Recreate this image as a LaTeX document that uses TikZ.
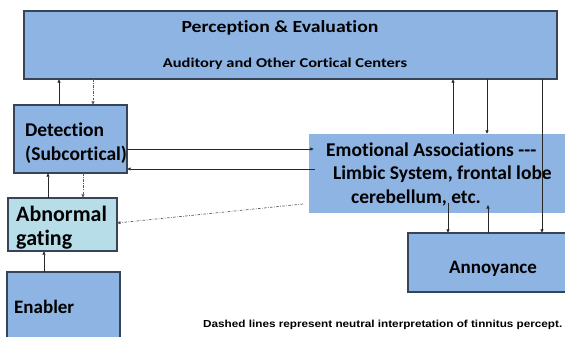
\documentclass[tikz,border=0pt]{standalone}
\usepackage{fontspec}
\setmainfont{Carlito}[Ligatures={TeX,NoCommon}]
\newfontfamily\footfont{Liberation Sans}
\usetikzlibrary{arrows.meta}
\definecolor{boxblue}{RGB}{142,180,227}
\definecolor{boxaqua}{RGB}{183,222,232}
\definecolor{boxedge}{RGB}{55,68,88}
\definecolor{linegray}{RGB}{40,40,40}
\definecolor{dashgray}{RGB}{90,90,90}
\tikzset{
  x=1pt, y=-1pt,
  bluebox/.style={draw=boxedge, line width=1.1pt, fill=boxblue},
  aquabox/.style={draw=boxedge, line width=1.1pt, fill=boxaqua},
  plainbox/.style={fill=boxblue},
  lbl/.style={inner sep=0pt, font=\bfseries, text=black},
  arr/.style={draw=linegray, line width=0.8pt, -{Triangle[length=3.5pt,width=3pt]}},
  darr/.style={draw=dashgray, line width=0.7pt, dash pattern=on 2.5pt off 1.5pt on 0.6pt off 1.5pt, -{Triangle[length=3.5pt,width=3pt]}}
}
\begin{document}
\begin{tikzpicture}
\useasboundingbox (0,0) rectangle (565,337);
% boxes
\path[bluebox] (24,11) rectangle (557,79);
\node[inner sep=0pt, minimum width=533pt, minimum height=68pt] (top) at (290.5,45) {};
\path[bluebox] (14,105) rectangle (127,173);
\node[inner sep=0pt, minimum width=113pt, minimum height=68pt] (det) at (70.5,139) {};
\path[aquabox] (8,198) rectangle (117,251);
\node[inner sep=0pt, minimum width=109pt, minimum height=53pt] (gate) at (62.5,224.5) {};
\path[bluebox] (7,272) rectangle (120,350);
\node[inner sep=0pt, minimum width=113pt, minimum height=78pt] (enab) at (63.5,311) {};
\path[plainbox] (309,134) rectangle (575,213);
\node[inner sep=0pt, minimum width=266pt, minimum height=79pt] (emo) at (442,173.5) {};
\path[bluebox] (408,233) rectangle (575,292);
\node[inner sep=0pt, minimum width=167pt, minimum height=59pt] (annoy) at (491.5,262.5) {};
% texts
\node[lbl, font=\bfseries\fontsize{17}{20}\selectfont, anchor=base] (ttl) at (280,33) {\scalebox{1.16}[1]{Perception \& Evaluation}};
\node[lbl, font=\bfseries\fontsize{13.5}{16}\selectfont, anchor=base] (sub) at (285,68) {\scalebox{1.22}[1]{Auditory and Other Cortical Centers}};
\node[lbl, font=\bfseries\fontsize{19.5}{24}\selectfont, anchor=base west, align=left] (dett) at (25,160) {Detection\\(Subcortical)};
\node[lbl, font=\bfseries\fontsize{22}{24}\selectfont, anchor=base west, align=left] (gatet) at (16,245) {Abnormal\\gating};
\node[lbl, font=\bfseries\fontsize{19}{24}\selectfont, anchor=base west] (enabt) at (14,313) {Enabler};
\node[lbl, font=\bfseries\fontsize{19.5}{23.5}\selectfont, anchor=base west, align=left] (emot) at (326,203) {Emotional Associations -{}-{}-\\\hspace*{7pt}Limbic System, frontal lobe\\\hspace*{25pt}cerebellum, etc.};
\node[lbl, font=\bfseries\fontsize{19}{24}\selectfont, anchor=base] (annoyt) at (493,273) {Annoyance};
\node[lbl, font=\footfont\bfseries\fontsize{10.2}{12}\selectfont, anchor=base west] (foot) at (203,327) {\scalebox{1.15}[1]{Dashed lines represent neutral interpretation of tinnitus percept.}};
% x positions
\coordinate (xa) at (59,0);
\coordinate (xb) at (93,0);
\coordinate (xc) at (48,0);
\coordinate (xd) at (83,0);
\coordinate (xe) at (44,0);
\coordinate (xf) at (453,0);
\coordinate (xg) at (487,0);
\coordinate (xh) at (542,0);
\coordinate (xi) at (448,0);
\coordinate (xj) at (488,0);
\coordinate (ya) at (0,149);
\coordinate (yb) at (0,169);
\coordinate (ec) at (303,204);
\coordinate (gc) at (117,223);
\coordinate (emoin1) at (448,203);
\coordinate (emoin2) at (488,205);
% connectors
\draw[arr] (det.north -| xa) -- (top.south -| xa);
\draw[darr] (top.south -| xb) -- (det.north -| xb);
\draw[arr] (gate.north -| xc) -- (det.south -| xc);
\draw[darr] (det.south -| xd) -- (gate.north -| xd);
\draw[arr] (enab.north -| xe) -- (gate.south -| xe);
\draw[arr] (det.east |- ya) -- ([xshift=5pt]emo.west |- ya);
\draw[arr] ([xshift=6pt]emo.west |- yb) -- (det.east |- yb);
\draw[darr] (ec) -- (gc);
\draw[arr] (emo.north -| xf) -- (top.south -| xf);
\draw[arr] (top.south -| xg) -- (emo.north -| xg);
\draw[arr] (top.south -| xh) -- (annoy.north -| xh);
\draw[arr] (emoin1) -- (annoy.north -| xi);
\draw[arr] (annoy.north -| xj) -- (emoin2);
\end{tikzpicture}
\end{document}
